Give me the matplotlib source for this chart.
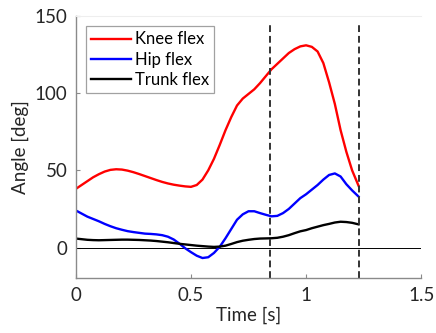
import matplotlib.pyplot as plt

plt.rcParams['font.family'] = ['Lato', 'DejaVu Sans']

time = [0, 0.025, 0.05, 0.075, 0.1, 0.125, 0.15, 0.175, 0.2, 0.225,
        0.25, 0.275, 0.3, 0.325, 0.35, 0.375, 0.4, 0.425, 0.45, 0.475,
        0.5, 0.525, 0.55, 0.575, 0.6, 0.625, 0.65, 0.675, 0.7, 0.725,
        0.75, 0.775, 0.8, 0.825, 0.85, 0.875, 0.9, 0.925, 0.95, 0.975,
        1.0, 1.025, 1.05, 1.075, 1.1, 1.125, 1.15, 1.175, 1.2, 1.228]
knee = [38, 40.5, 43, 45.5, 47.5, 49.2, 50.3, 50.7, 50.5, 49.8,
        48.8, 47.6, 46.3, 45, 43.7, 42.5, 41.5, 40.7, 40.1, 39.6,
        39.3, 40.5, 44, 50, 57.5, 66.5, 76, 84.5, 92, 96.5,
        99.5, 102.5, 106.5, 111, 115.5, 119, 122.5, 126, 128.5, 130.3,
        131, 130, 127, 119.5, 107, 93, 76, 62, 50, 40]
hip = [24, 22, 20, 18.5, 17, 15.3, 13.8, 12.5, 11.5, 10.6,
       10, 9.5, 9, 8.8, 8.5, 8, 7, 5.2, 2.5, -0.5,
       -3, -5.3, -6.8, -6.3, -3.5, 0.5, 6, 12, 18, 21.5,
       23.5, 23.5, 22.3, 21.2, 20.2, 20.5, 22.3, 25, 28.5, 32,
       34.5, 37.5, 40.5, 44, 47, 48, 46, 41, 37, 33]
trunk = [5.8, 5.4, 5, 4.8, 4.7, 4.8, 4.9, 5, 5.1, 5.1,
         5, 4.9, 4.7, 4.5, 4.2, 3.8, 3.4, 2.9, 2.4, 2,
         1.6, 1.2, 0.9, 0.6, 0.4, 0.6, 1.2, 2.3, 3.5, 4.4,
         5, 5.5, 5.8, 5.9, 6, 6.3, 7, 8, 9.3, 10.5,
         11.3, 12.5, 13.5, 14.5, 15.3, 16.2, 16.7, 16.5, 16, 15]
events = [0.842, 1.228]

fig = plt.figure(figsize=(4.36, 3.33), dpi=100)
ax = fig.add_axes([0.174, 0.164, 0.792, 0.788])

ax.plot([0, 1.5], [0, 0], color='black', lw=0.7)
ax.plot(time, knee, color='#ff0000', lw=1.7, label='Knee flex')
ax.plot(time, hip, color='#0000ff', lw=1.7, label='Hip flex')
ax.plot(time, trunk, color='black', lw=1.7, label='Trunk flex')
ax.vlines(events, -20, 146, colors='#333333', linestyles=(0, (3.5, 2)), lw=1.4)

ax.set_xlim(0, 1.5)
ax.set_ylim(-20, 150)
ax.set_xticks([0, 0.5, 1, 1.5])
ax.set_xticklabels(['0', '0.5', '1', '1.5'])
ax.set_yticks([0, 50, 100, 150])

ax.spines['right'].set_visible(False)
ax.spines['top'].set_color('#eeeeee')
for s in ['left', 'bottom']:
    ax.spines[s].set_color('#8a8a8a')
    ax.spines[s].set_linewidth(1.0)
ax.tick_params(direction='in', length=3, color='#8a8a8a', labelsize=13.5,
               labelcolor='#262626', pad=6)

ax.set_xlabel('Time [s]', fontsize=13.5, color='#262626', labelpad=2)
ax.set_ylabel('Angle [deg]', fontsize=13.5, color='#262626', labelpad=4)

leg = ax.legend(loc='upper left', bbox_to_anchor=(0.03, 0.96), fontsize=12,
                frameon=True, fancybox=False, handlelength=2.4,
                handletextpad=0.2, borderpad=0.3, labelspacing=0.25,
                borderaxespad=0)
leg.get_frame().set_edgecolor('#8a8a8a')
leg.get_frame().set_linewidth(0.9)

fig.savefig('out.png', dpi=100)
